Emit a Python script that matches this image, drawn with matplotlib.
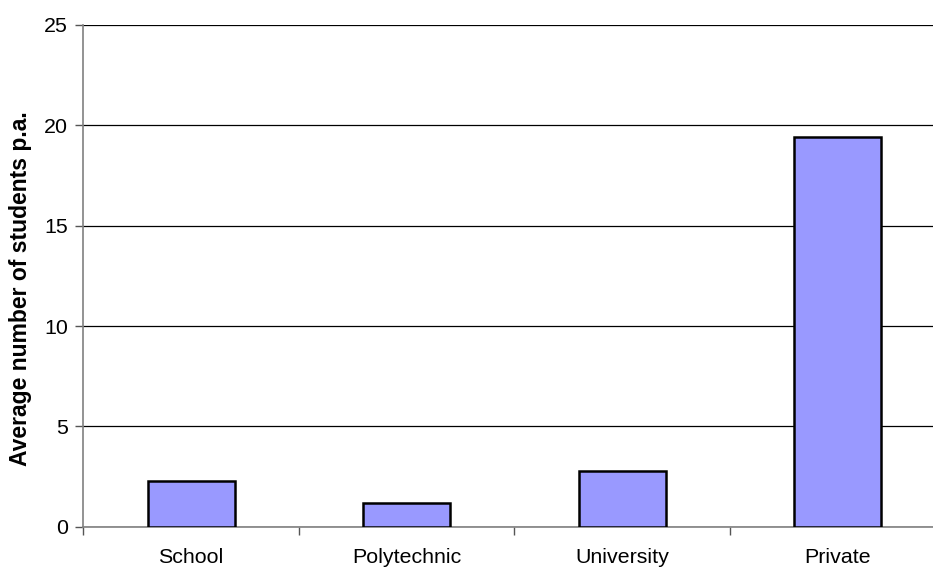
import matplotlib
matplotlib.use("Agg")
import matplotlib.pyplot as plt
import numpy as np

categories = ["School", "Polytechnic", "University", "Private"]
values = [2.3, 1.17, 2.8, 19.4]
y_ticks = [0, 5, 10, 15, 20, 25]

plt.rcParams["font.family"] = ["Liberation Sans", "DejaVu Sans"]

W, H = 933, 568
fig = plt.figure(figsize=(W / 100, H / 100), dpi=100)
left_px, right_px, top_px, bottom_px = 83.4, 945.5, 25.0, 526.7
ax = fig.add_axes([left_px / W, (H - bottom_px) / H,
                   (right_px - left_px) / W, (bottom_px - top_px) / H])

x = np.arange(len(categories))
ax.bar(x, values, width=0.404, color="#9999FF", edgecolor="black",
       linewidth=1.8, zorder=3)

ax.set_xlim(-0.5, len(categories) - 0.5)
ax.set_ylim(0, 25)
ax.set_yticks(y_ticks)
ax.set_yticklabels([str(t) for t in y_ticks], fontsize=15.4)
ax.yaxis.grid(True, color="black", linewidth=0.9, zorder=0)
ax.set_axisbelow(True)

ax.set_xticks(x)
ax.set_xticklabels(categories, fontsize=15.4)
ax.set_xticks(np.arange(-0.5, len(categories) + 0.5, 1.0), minor=True)
ax.tick_params(axis="x", which="major", length=0, pad=15)
ax.tick_params(axis="x", which="minor", length=6, width=1, color="#555555",
               direction="out")
ax.tick_params(axis="y", length=6, width=1, color="#555555", pad=5)

for side in ["top", "right"]:
    ax.spines[side].set_visible(False)
ax.spines["left"].set_color("#808080")
ax.spines["bottom"].set_color("#808080")
ax.spines["left"].set_linewidth(1.2)
ax.spines["bottom"].set_linewidth(1.2)

ax.set_ylabel("Average number of students p.a.", fontsize=16.5,
              fontweight="bold")
ax.yaxis.set_label_coords((32 - left_px) / (right_px - left_px),
                          (bottom_px - 289) / (bottom_px - top_px))

fig.savefig("out.png", dpi=100)
